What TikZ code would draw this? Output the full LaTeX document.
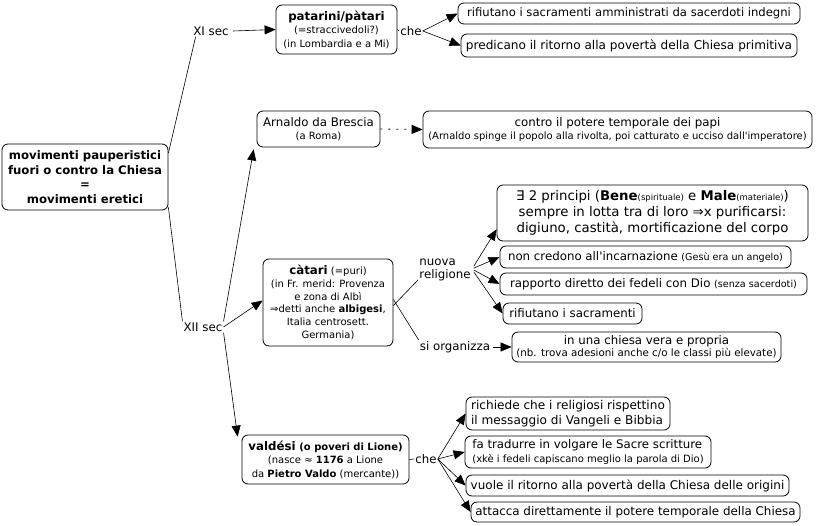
\documentclass[tikz,border=0pt]{standalone}
\usepackage{fontspec}
\setmainfont{DejaVu Sans}
\usetikzlibrary{arrows.meta}
\newcommand{\mf}{\fontsize{11.8}{14.5}\selectfont}
\newcommand{\sm}{\fontsize{10}{12.5}\selectfont}
\newcommand{\ssm}{\fontsize{8.5}{10}\selectfont}
\newcommand{\bigf}{\fontsize{13.3}{16}\selectfont}
\newcommand{\q}{\textquotesingle}
\tikzset{
  box/.style={draw, rounded corners=6pt, line width=0.8pt, align=center, inner xsep=2pt, inner ysep=1pt, font=\mf},
  lbl/.style={font=\mf, inner sep=1pt},
  arr/.style={-{Triangle[length=11pt,width=9pt]}, line width=0.6pt},
  ln/.style={line width=0.6pt}
}
\begin{document}
\begin{tikzpicture}[x=1pt,y=-1pt]
\useasboundingbox (0,0) rectangle (818,525);
% nodes
\node[box, minimum width=166, minimum height=66, font=\fontsize{11.7}{14.5}\selectfont\bfseries] (root) at (85,177) {movimenti pauperistici\\fuori o contro la Chiesa\\=\\movimenti eretici};
\node[lbl] (xi) at (211,31) {XI sec};
\node[box, minimum width=121, minimum height=49] (pat) at (336.5,29.5) {\textbf{patarini/pàtari}\\[-1pt]{\sm (=straccivedoli?)}\\[-1pt]{\sm (in Lombardia e a Mi)}};
\node[lbl] (che1) at (411,31) {che};
\node[box, minimum width=342, minimum height=21, font=\fontsize{11.6}{14}\selectfont] (r1) at (629,13.5) {rifiutano i sacramenti amministrati da sacerdoti indegni};
\node[box, minimum width=336, minimum height=23, font=\fontsize{12.1}{14}\selectfont] (r2) at (629,45.5) {predicano il ritorno alla povertà della Chiesa primitiva};
\node[lbl] (xii) at (203,327) {XII sec};
\node[box, minimum width=123, minimum height=36] (arn) at (318.5,129) {Arnaldo da Brescia\\[-1pt]{\sm (a Roma)}};
\node[box, minimum width=389, minimum height=37] (contro) at (617.5,129.5) {contro il potere temporale dei papi\\[-2pt]{\sm (Arnaldo spinge il popolo alla rivolta, poi catturato e ucciso dall\q imperatore)}};
\node[box, minimum width=130, minimum height=87, font=\fontsize{10}{12.8}\selectfont] (cat) at (328,302.5) {{\mf\textbf{càtari}} (=puri)\\(in Fr. merid: Provenza\\e zona di Albì\\⇒detti anche \textbf{albigesi},\\Italia centrosett.\\Germania)};
\node[lbl, align=left] (nuova) at (445,270) {nuova\\[-1pt]religione};
\node[lbl] (si) at (455,347) {si organizza};
\node[box, minimum width=311, minimum height=56, font=\bigf] (A) at (652.5,213) {∃ 2 principi (\textbf{Bene}{\ssm(spirituale)} e \textbf{Male}{\ssm(materiale)})\\sempre in lotta tra di loro ⇒x purificarsi:\\digiuno, castità, mortificazione del corpo};
\node[box, minimum width=291, minimum height=22] (B) at (645.5,257) {non credono all\q incarnazione {\fontsize{9.6}{11}\selectfont (Gesù era un angelo)}};
\node[box, minimum width=307, minimum height=22] (C) at (653.5,284) {rapporto diretto dei fedeli con Dio {\fontsize{9.6}{11}\selectfont (senza sacerdoti)}};
\node[box, minimum width=139, minimum height=21] (D) at (572.5,313.5) {rifiutano i sacramenti};
\node[box, minimum width=269, minimum height=30] (E) at (646.5,347) {in una chiesa vera e propria\\[-2pt]{\fontsize{10.3}{12}\selectfont (nb. trova adesioni anche c/o le classi più elevate)}};
\node[box, minimum width=167, minimum height=49] (val) at (325.5,459.5) {\textbf{valdési} {\sm\bfseries (o poveri di Lione)}\\[-1pt]{\sm (nasce ≈ \textbf{1176} a Lione}\\[-1pt]{\sm da \textbf{Pietro Valdo} (mercante))}};
\node[lbl] (che2) at (426,459) {che};
\node[box, minimum width=204, minimum height=33, align=left, font=\fontsize{12.1}{14.5}\selectfont] (V1) at (568,413.5) {richiede che i religiosi rispettino\\il messaggio di Vangeli e Bibbia};
\node[box, minimum width=246, minimum height=32, align=left] (V2) at (588,452) {fa tradurre in volgare le Sacre scritture\\[-1pt]{\sm (xkè i fedeli capiscano meglio la parola di Dio)}};
\node[box, minimum width=323, minimum height=21, font=\fontsize{12}{14}\selectfont] (V3) at (627.5,485.5) {vuole il ritorno alla povertà della Chiesa delle origini};
\node[box, minimum width=329, minimum height=20, font=\fontsize{11.9}{14}\selectfont] (V4) at (635.5,512) {attacca direttamente il potere temporale della Chiesa};
% connectors
\draw[ln] (root.16) -- (xi.200);
\draw[arr] ([xshift=3pt]xi.east) -- (pat.west);
\draw[ln] (pat.east) -- (che1.west);
\draw[arr] (che1.east) -- (r1.west);
\draw[arr] (che1.east) -- (r2.west);
\draw[ln] (root.-20) -- (xii.north west);
\draw[arr] (xii.north east) -- ([xshift=-3pt,yshift=-2pt]arn.south west);
\draw[arr] (xii.east) -- ([yshift=2pt]cat.west);
\draw[arr] (xii.south east) -- ([xshift=-4pt,yshift=-2pt]val.north west);
\draw[arr, line width=0.8pt, dash pattern=on 2pt off 6pt] (arn.east) -- (contro.west);
\draw[ln] ([yshift=-3pt]cat.east) -- (nuova.200);
\draw[ln] ([yshift=3pt]cat.east) -- (si.north west);
\draw[arr] ([xshift=2pt]nuova.8) -- (A.186);
\draw[arr] ([xshift=2pt]nuova.4) -- (B.west);
\draw[arr] ([xshift=2pt]nuova.0) -- (C.west);
\draw[arr] ([xshift=2pt]nuova.-4) -- (D.west);
\draw[arr] ([xshift=2pt]si.east) -- (E.west);
\draw[ln] (val.east) -- (che2.west);
\draw[arr] (che2.east) -- (V1.west);
\draw[arr] (che2.east) -- (V2.west);
\draw[arr] (che2.east) -- (V3.west);
\draw[arr] (che2.east) -- (V4.west);
\end{tikzpicture}
\end{document}
